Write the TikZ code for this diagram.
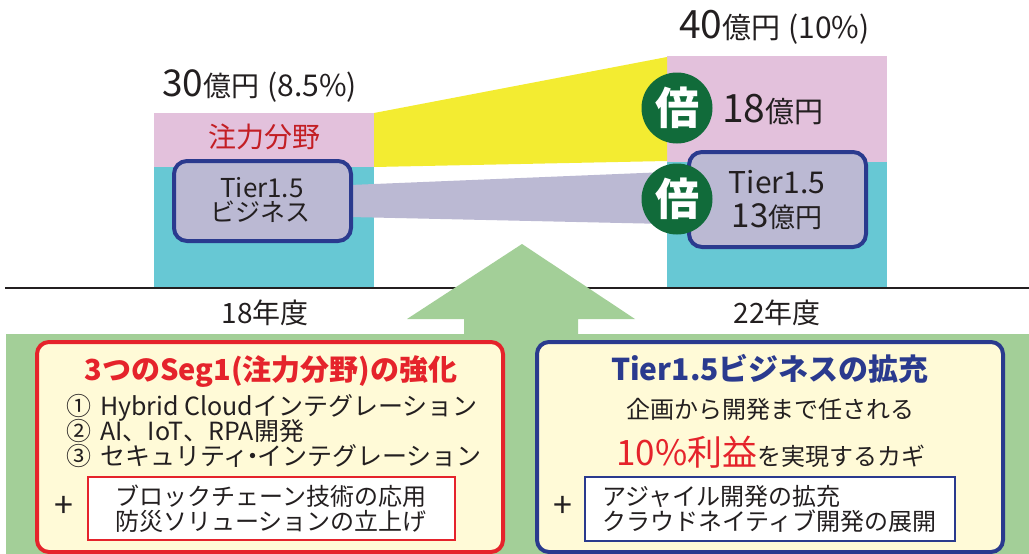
\documentclass[tikz,border=0pt]{standalone}
\usepackage{fontspec}
\setmainfont{Noto Sans CJK JP}
\definecolor{pinkc}{HTML}{E3C1DC}
\definecolor{cyanc}{HTML}{67C8D4}
\definecolor{yellowc}{HTML}{F3EC31}
\definecolor{lilac}{HTML}{BBB9D3}
\definecolor{navy}{HTML}{2A3A8E}
\definecolor{darkg}{HTML}{116B3A}
\definecolor{lightg}{HTML}{A3CF98}
\definecolor{cream}{HTML}{FFFAD7}
\definecolor{redc}{HTML}{E5232B}
\definecolor{txt}{HTML}{231F20}
\newcommand{\fs}[1]{\fontsize{#1}{#1}\selectfont}
\tikzset{
  tierbox/.style={draw=navy, line width=4pt, fill=lilac, rounded corners=13pt},
  baibox/.style={circle, fill=darkg, text=white, minimum size=71pt, inner sep=0pt, font=\fs{44}\bfseries},
  lbl/.style={text=txt, inner sep=0pt, anchor=base},
  panel/.style={line width=4pt, fill=cream, rounded corners=12pt},
  inner/.style={line width=1.6pt, fill=white},
}
\begin{document}
\begin{tikzpicture}[x=1pt,y=-1pt]
\useasboundingbox (0,0) rectangle (1029,554);
% bars
\fill[pinkc] (154,113) rectangle (374,167);
\fill[cyanc] (154,167) rectangle (374,288);
\fill[pinkc] (667,56) rectangle (887,162);
\fill[cyanc] (667,162) rectangle (887,288);
% bands
\fill[yellowc] (374,113) -- (667,57) -- (667,161) -- (374,167) -- cycle;
\fill[lilac] (350,185) -- (667,172) -- (667,224) -- (350,217) -- cycle;
% baseline
\draw[txt, line width=2.5pt] (5,288) coordinate (bl) -- (1029,288) coordinate (br);
% boxes
\draw[tierbox] (174,161) rectangle (351,241);
\node[lbl, font=\fs{26}] (lt1) at (262,197) {Tier1.5};
\node[lbl, font=\fs{25}] (lt2) at (260,221) {ビジネス};
\node[lbl, text=redc!85!black, font=\fs{28}] (focus) at (264,147) {注力分野};
\draw[tierbox] (689,152) rectangle (866,247);
\node[lbl, font=\fs{30}] (rt1) at (777,193) {Tier1.5};
\node[lbl] (rt2) at (777,227) {{\fs{33}13}{\fs{27}億円}};
% circles
\node[baibox] (b1) at (677,108) {倍};
\node[baibox] (b2) at (677,199) {倍};
\node[lbl, anchor=base west] (v18) at (722,122) {{\fs{39}18}{\fs{29}億円}};
% totals
\node[lbl, anchor=base west] (t30) at (162,96) {{\fs{37}30}{\fs{28}億円}\hspace{8pt}{\fs{30}(8.5\%)}};
\node[lbl, anchor=base west] (t40) at (679,38) {{\fs{39}40}{\fs{29}億円}\hspace{8pt}{\fs{30}(10\%)}};
% years
\node[lbl, font=\fs{28}] (y18) at (265,323) {18年度};
\node[lbl, font=\fs{28}] (y22) at (777,323) {22年度};
% green area and arrow
\fill[lightg] (6,334) rectangle (1029,554);
\fill[lightg] (464,335) -- (464,319) -- (407,319) -- (522,244) coordinate (apex) -- (635,319) -- (578,319) -- (578,335) -- cycle;
% left panel
\draw[panel, draw=redc] (37,342) rectangle (503,552);
\node[lbl, text=redc, font=\fs{29}\bfseries] (lt) at (271,380) {3つのSeg1(注力分野)の強化};
\node[lbl, anchor=base west, font=\fs{25}] (l1) at (66,415) {①\hspace{9pt}Hybrid Cloudインテグレーション};
\node[lbl, anchor=base west, font=\fs{25}] (l2) at (66,440) {②\hspace{9pt}AI、IoT、RPA開発};
\node[lbl, anchor=base west, font=\fs{25}] (l3) at (66,465) {③\hspace{9pt}セキュリティ\makebox[0.35em]{・}インテグレーション};
\node[text=txt, font=\fs{34}, inner sep=0pt] (lp) at (64,507) {+};
\draw[inner, draw=redc] (88,477) rectangle (455,540);
\node[lbl, font=\fs{24}] (li1) at (271,505) {ブロックチェーン技術の応用};
\node[lbl, font=\fs{24}] (li2) at (271,530) {防災ソリューションの立上げ};
% right panel
\draw[panel, draw=navy] (537,342) rectangle (1003,552);
\node[lbl, text=navy, font=\fs{30}\bfseries] (rtt) at (770,380) {Tier1.5ビジネスの拡充};
\node[lbl, font=\fs{24}] (r1) at (770,418) {企画から開発まで任される};
\node[lbl] (r2) at (771,465) {{\color{redc}\fs{35}10\%利益}{\fs{24}を実現するカギ}};
\node[text=txt, font=\fs{34}, inner sep=0pt] (rp) at (563,507) {+};
\draw[inner, draw=navy] (585,477) rectangle (955,541);
\node[lbl, anchor=base west, font=\fs{24}] (ri1) at (602,505) {アジャイル開発の拡充};
\node[lbl, anchor=base west, font=\fs{24}] (ri2) at (602,530) {クラウドネイティブ開発の展開};
\end{tikzpicture}
\end{document}
